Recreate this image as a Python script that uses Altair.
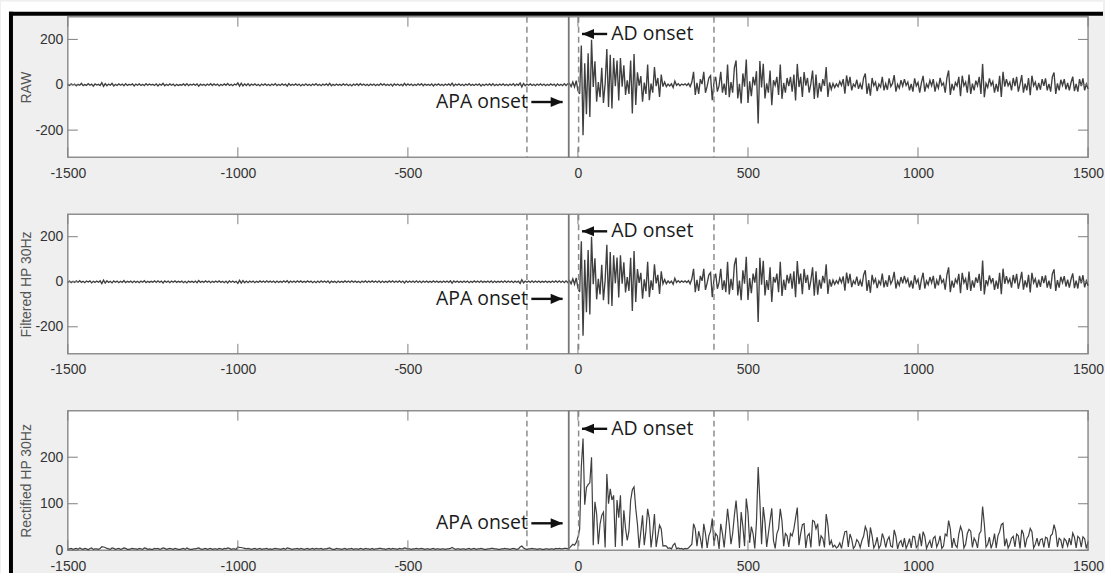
import altair as alt
import pandas as pd

# ---------------------------------------------------------------------------
# EMG traces, one sample every 5 ms, split into four time segments
# ---------------------------------------------------------------------------
SAMPLE_MS = 5
SEGMENT_START_MS = [-1500, -25, 255, 755]

# RAW signal
raw_pre = [
    2, -3, 4, -1, 3, -5, 2, -2, 6, -4, 1, -3, 5, -2, 3, -6, 4, -1, 2, -3,
    9, -7, 5, -4, 3, -2, 6, -5, 2, -3, 4, -2, 3, -4, 5, -3, 2, -1, 4, -5,
    3, -2, 4, -3, 2, -4, 5, -2, 3, -1, 2, -3, 4, -5, 3, -2, 6, -4, 2, -3,
    4, -2, 3, -5, 2, -3, 1, -2, 4, -3, 5, -4, 2, -1, 3, -2, 4, -6, 3, -2,
    2, -4, 3, -2, 5, -3, 4, -2, 3, -5, 2, -3, 4, -2, 6, -3, 2, -4, 3, -1,
    8, -6, 7, -5, 4, -3, 5, -4, 3, -2, 4, -3, 2, -5, 3, -2, 4, -3, 2, -4,
    3, -2, 5, -4, 2, -3, 4, -2, 3, -6, 5, -3, 2, -2, 4, -3, 3, -5, 2, -3,
    4, -3, 2, -4, 3, -2, 5, -3, 2, -4, 3, -2, 4, -3, 6, -4, 2, -3, 3, -2,
    2, -3, 4, -2, 3, -4, 2, -5, 3, -2, 4, -3, 5, -2, 3, -3, 2, -4, 3, -2,
    3, -4, 2, -3, 5, -2, 4, -3, 2, -3, 3, -5, 4, -2, 3, -3, 2, -4, 6, -3,
    4, -2, 3, -4, 2, -3, 4, -2, 5, -4, 3, -2, 2, -3, 4, -5, 3, -2, 4, -3,
    2, -4, 3, -2, 4, -3, 7, -5, 3, -2, 4, -3, 2, -4, 3, -2, 5, -3, 2, -3,
    3, -2, 4, -5, 2, -3, 3, -2, 4, -3, 5, -4, 2, -3, 3, -2, 4, -3, 2, -4,
    3, -2, 5, -4, 3, -2, 8, -9, 6, -4, 3, -2, 4, -3, 2, -4, 3, -2, 4, -3,
    3, -4, 2, -3, 4, -2, 3, -5, 4, -3, 2, -4, 5, -3, 4,
]
raw_ad = [
    6, -8, 12, -10, 18, -25, -40, 173, -222, 95,
    -130, 139, -142, 198, -10, 104, -75, 12, -55, 75,
    -80, 5, 158, -98, 132, -105, 118, -6, 107, -69,
    118, -8, 86, -45, 20, -40, 107, -127, 136, -89,
    55, -4, 38, -75, 10, -40, 89, -68, 5, -35,
    78, -6, 30, -54, 45, -8,
]
raw_mid = [
    12, -8, 3, -5, 4, -12, 16, -2, 5, -4,
    3, -1, 4, -3, 6, -8, 12, 57, -45, 8,
    -40, 25, 3, 57, -35, -6, 30, 40, -68, 10,
    35, -30, -4, 57, -35, 5, -45, 89, -55, 12,
    -35, 75, 107, -60, 4, -82, 50, -8, 111, -80,
    15, -50, 35, -3, 60, -171, 105, -12, 93, -60,
    6, -35, 63, -90, 20, -3, 35, -45, 89, -62,
    8, -35, 30, -6, 35, -30, 45, -69, 92, -10,
    35, -54, 56, -4, 30, -35, 5, 63, -62, 45,
    -57, 8, -30, 25, -5, 78, -54, 10, -20, 6,
]
raw_late = [
    -12, 4, -8, 15, -3, 25, -39, 41, -6, 35,
    -25, 3, -8, 22, -18, 5, -20, 30, 50, -40,
    6, -48, 30, -4, 12, -28, 3, -10, 35, -25,
    5, -22, 28, -8, 6, 43, -30, 2, -15, 20,
    -6, 25, -3, 12, -25, 4, -30, 28, -5, 10,
    -35, 8, 39, -30, 3, -12, 20, -4, 25, -30,
    6, -15, 30, -3, 8, -35, 30, 63, -45, 4,
    -25, 10, -5, 35, -50, 40, -4, 12, -35, 45,
    -40, 5, -25, 18, -4, 35, -40, 92, -55, 6,
    -12, 28, -3, 15, -35, 4, -30, 40, -54, 57,
    -8, 25, -4, 12, -25, 30, -6, 35, -30, 3,
    43, -35, 5, -25, 30, -46, 40, -4, 12, -25,
    8, -22, 25, -5, 28, -25, 4, -30, 35, 54,
    -40, 6, -25, 22, -3, 25, -20, 8, -25, 10,
    36, -28, 4, -30, 25, -6, 28, -25, 3, -18,
]

# High-pass (30 Hz) filtered signal
filt_pre = [
    -2, 3, -4, 2, -3, 4, -2, 5, -3, 2, -4, 3, -1, 4, -5, 2, -3, 3, -2, 4,
    -8, 7, -6, 4, -3, 2, -5, 4, -2, 3, -4, 2, -3, 5, -4, 2, -2, 3, -4, 3,
    -3, 2, -4, 3, -2, 5, -4, 2, -3, 2, -2, 4, -3, 4, -2, 3, -5, 4, -2, 3,
    -4, 3, -2, 4, -3, 2, -2, 3, -4, 2, -5, 3, -2, 2, -3, 3, -4, 5, -3, 2,
    -3, 4, -2, 3, -4, 2, -3, 3, -2, 4, -3, 2, -4, 3, -5, 4, -2, 3, -3, 2,
    -7, 6, -6, 5, -4, 3, -4, 3, -2, 3, -4, 2, -3, 4, -2, 3, -3, 4, -2, 3,
    -2, 3, -4, 3, -3, 2, -3, 4, -2, 5, -4, 3, -2, 3, -3, 4, -2, 4, -3, 2,
    -3, 4, -2, 3, -4, 2, -4, 3, -3, 4, -2, 3, -3, 4, -5, 3, -2, 2, -4, 3,
    -3, 2, -3, 4, -2, 3, -3, 4, -2, 3, -3, 2, -4, 3, -2, 4, -3, 3, -2, 4,
    -2, 3, -3, 4, -4, 3, -3, 2, -3, 4, -2, 4, -3, 3, -2, 4, -3, 3, -5, 4,
    -3, 3, -2, 3, -3, 4, -3, 3, -4, 3, -2, 3, -3, 2, -3, 4, -2, 3, -3, 2,
    -3, 3, -2, 3, -3, 4, -6, 4, -2, 3, -3, 2, -3, 3, -2, 3, -4, 2, -3, 4,
    -2, 3, -3, 4, -3, 2, -2, 3, -3, 4, -4, 3, -3, 2, -2, 3, -3, 4, -3, 3,
    -2, 3, -4, 3, -2, 3, -7, 9, -5, 3, -2, 3, -3, 4, -3, 3, -2, 3, -3, 2,
    -2, 3, -3, 2, -3, 3, -2, 4, -3, 4, -3, 3, -4, 4, -3,
]
filt_ad = [
    5, -9, 13, -11, 17, -28, -45, 180, -240, 98,
    -135, 141, -145, 200, -11, 104, -78, 13, -56, 75,
    -82, 6, 164, -100, 132, -108, 118, -7, 108, -70,
    118, -9, 86, -47, 21, -41, 107, -130, 136, -90,
    56, -5, 40, -75, 11, -42, 89, -68, 6, -36,
    78, -7, 31, -54, 46, -9,
]
filt_mid = [
    10, -9, 4, -5, 3, -11, 15, -3, 5, -3,
    4, -2, 4, -3, 5, -9, 13, 57, -46, 9,
    -41, 26, 4, 57, -36, -5, 31, 41, -68, 11,
    36, -31, -3, 57, -36, 6, -46, 89, -56, 13,
    -36, 75, 107, -61, 5, -82, 51, -9, 111, -81,
    16, -51, 36, -4, 61, -179, 106, -13, 93, -61,
    7, -36, 64, -90, 21, -4, 36, -46, 89, -63,
    9, -36, 31, -7, 36, -31, 46, -69, 92, -11,
    36, -55, 57, -5, 31, -36, 6, 64, -62, 46,
    -57, 9, -31, 26, -6, 78, -54, 11, -21, 7,
]
filt_late = [
    -11, 5, -8, 16, -4, 24, -40, 41, -7, 35,
    -24, 4, -9, 23, -18, 6, -21, 30, 51, -41,
    7, -49, 31, -5, 13, -28, 4, -11, 36, -25,
    6, -22, 29, -9, 7, 44, -30, 3, -16, 21,
    -7, 26, -4, 13, -25, 5, -30, 29, -6, 11,
    -36, 9, 40, -30, 4, -13, 21, -5, 26, -30,
    7, -16, 31, -4, 9, -35, 31, 64, -46, 5,
    -26, 11, -6, 35, -51, 40, -5, 13, -36, 45,
    -41, 6, -26, 19, -5, 35, -41, 94, -56, 7,
    -13, 28, -4, 16, -36, 5, -31, 40, -55, 58,
    -9, 25, -5, 13, -26, 30, -7, 35, -31, 4,
    44, -35, 6, -25, 31, -47, 40, -5, 13, -26,
    9, -23, 25, -6, 28, -26, 5, -31, 35, 55,
    -41, 7, -26, 22, -4, 25, -21, 9, -26, 11,
    37, -28, 5, -30, 26, -7, 29, -25, 4, -18,
]

# ---------------------------------------------------------------------------
# Axes, events and annotations
# ---------------------------------------------------------------------------
X_DOMAIN = [-1500, 1500]
X_TICKS = [-1500, -1000, -500, 0, 500, 1000, 1500]

panel_titles = ["RAW", "Filtered HP 30Hz", "Rectified HP 30Hz"]
panel_y_domains = [[-320, 300], [-320, 300], [0, 300]]
panel_y_ticks = [[-200, 0, 200], [-200, 0, 200], [0, 100, 200]]
panel_heights = [141, 140, 140]

window_marks_ms = [-150, 2, 400]   # dashed: analysis window and AD onset
apa_mark_ms = [-27]                # solid: APA onset

AD_LABEL_MS = 98
APA_LABEL_MS = -147
ad_arrow_ms = (12, 86)      # tip, tail
apa_arrow_ms = (-45, -137)  # tip, tail
ad_label_y = [224, 224, 261]
apa_label_y = [-76, -76, 58]

PANEL_W = 1023
TICK_LEN = 10
TRACE = "#3f3f3f"
GUIDE = "#8c8c8c"
TEXT_FONT = "Open Sans"


def to_frame(segments):
    rows = []
    for start, values in zip(SEGMENT_START_MS, segments):
        rows += [{"t": start + SAMPLE_MS * i, "v": v} for i, v in enumerate(values)]
    return pd.DataFrame(rows)


raw_df = to_frame([raw_pre, raw_ad, raw_mid, raw_late])
filt_df = to_frame([filt_pre, filt_ad, filt_mid, filt_late])


def panel(idx, df, rectified=False):
    h = panel_heights[idx]
    xs = alt.Scale(domain=X_DOMAIN, nice=False, zero=False)
    ys = alt.Scale(domain=panel_y_domains[idx], nice=False, zero=False)

    x_axis = alt.Axis(values=X_TICKS, labelExpr="'' + datum.value", ticks=False,
                      tickSize=0, domain=False, grid=False, labelPadding=9,
                      labelFlush=False, labelOverlap=False, title=None)
    y_axis = alt.Axis(values=panel_y_ticks[idx], labelExpr="'' + datum.value",
                      ticks=False, tickSize=0, domain=False, grid=False,
                      labelPadding=5, labelFlush=False, labelOverlap=False,
                      title=panel_titles[idx], titleX=-41, titleY=h / 2,
                      titleAngle=270, titleBaseline="middle", titleAlign="center")

    sig = alt.Chart(df)
    if rectified:
        sig = sig.transform_calculate(v="abs(datum.v)")
    trace = sig.mark_line(color=TRACE, strokeWidth=1.2 if rectified else 1.35).encode(
        x=alt.X("t:Q", scale=xs, axis=x_axis),
        y=alt.Y("v:Q", scale=ys, axis=y_axis),
    )

    dashed = alt.Chart(pd.DataFrame({"t": window_marks_ms})).mark_rule(
        color=GUIDE, strokeWidth=1.5, strokeDash=[6, 4]
    ).encode(x="t:Q")
    solid = alt.Chart(pd.DataFrame({"t": apa_mark_ms})).mark_rule(
        color="#777777", strokeWidth=1.8
    ).encode(x="t:Q")

    # inward ticks on all four sides
    xt = alt.Chart(pd.DataFrame({"t": X_TICKS}))
    yt = alt.Chart(pd.DataFrame({"v": panel_y_ticks[idx]}))
    tick = dict(color="#808080", strokeWidth=1)
    ticks = [
        xt.mark_rule(**tick).encode(x="t:Q", y=alt.value(0), y2=alt.value(TICK_LEN)),
        xt.mark_rule(**tick).encode(x="t:Q", y=alt.value(h - TICK_LEN), y2=alt.value(h)),
        yt.mark_rule(**tick).encode(y="v:Q", x=alt.value(0), x2=alt.value(TICK_LEN)),
        yt.mark_rule(**tick).encode(y="v:Q", x=alt.value(PANEL_W - TICK_LEN), x2=alt.value(PANEL_W)),
    ]

    # onset annotations
    ad_text = alt.Chart(pd.DataFrame({"t": [AD_LABEL_MS], "v": [ad_label_y[idx]], "s": ["AD onset"]})).mark_text(
        align="left", baseline="middle", font=TEXT_FONT, fontSize=19.5, color="#1a1a1a"
    ).encode(x="t:Q", y="v:Q", text="s:N")
    apa_text = alt.Chart(pd.DataFrame({"t": [APA_LABEL_MS], "v": [apa_label_y[idx]], "s": ["APA onset"]})).mark_text(
        align="right", baseline="middle", font=TEXT_FONT, fontSize=19.5, color="#1a1a1a"
    ).encode(x="t:Q", y="v:Q", text="s:N")

    arrows = pd.DataFrame({
        "t": [ad_arrow_ms[0], apa_arrow_ms[0]],
        "tail": [ad_arrow_ms[1], apa_arrow_ms[1]],
        "v": [ad_label_y[idx], apa_label_y[idx]],
    })
    shafts = alt.Chart(arrows).mark_rule(color="#111111", strokeWidth=2.4).encode(
        x="t:Q", x2="tail:Q", y="v:Q"
    )
    head_left = alt.Chart(arrows.iloc[[0]]).mark_point(
        shape="M0,0L1,-0.42L1,0.42Z", filled=True, size=576, color="#111111", opacity=1, strokeWidth=0
    ).encode(x="t:Q", y="v:Q")
    head_right = alt.Chart(arrows.iloc[[1]]).mark_point(
        shape="M0,0L-1,-0.42L-1,0.42Z", filled=True, size=576, color="#111111", opacity=1, strokeWidth=0
    ).encode(x="t:Q", y="v:Q")

    layers = [trace, dashed, solid] + ticks + [shafts, head_left, head_right, ad_text, apa_text]

    if idx == 0:
        # figure edge: white margin with a dark border line at top and left
        one = alt.Chart(pd.DataFrame({"k": [0]}))
        edge = [
            one.mark_rect(color="white").encode(x=alt.value(-67), x2=alt.value(1038), y=alt.value(-15), y2=alt.value(-5)),
            one.mark_rect(color="white").encode(x=alt.value(-67), x2=alt.value(-59), y=alt.value(-15), y2=alt.value(558)),
            one.mark_rect(color="black").encode(x=alt.value(-59), x2=alt.value(1038), y=alt.value(-5), y2=alt.value(-1)),
            one.mark_rect(color="black").encode(x=alt.value(-59), x2=alt.value(-55), y=alt.value(-5), y2=alt.value(558)),
        ]
        layers = edge + layers

    return alt.layer(*layers).properties(width=PANEL_W, height=h)


chart = alt.vconcat(
    panel(0, raw_df),
    panel(1, filt_df),
    panel(2, filt_df, rectified=True),
    spacing=57,
    bounds="flush",
).properties(
    padding=0,
    autosize=alt.AutoSizeParams(type="pad"),
).configure(
    background="#efefef",
).configure_view(
    fill="white", stroke="#8f8f8f", strokeWidth=1.5,
).configure_axis(
    labelFont="Liberation Sans", labelFontSize=14, labelColor="#333333",
    titleFont="Liberation Sans", titleFontSize=14, titleColor="#555555",
    titleFontWeight="normal",
)

chart.save("out.html", embed_options={"renderer": "svg", "actions": False})
